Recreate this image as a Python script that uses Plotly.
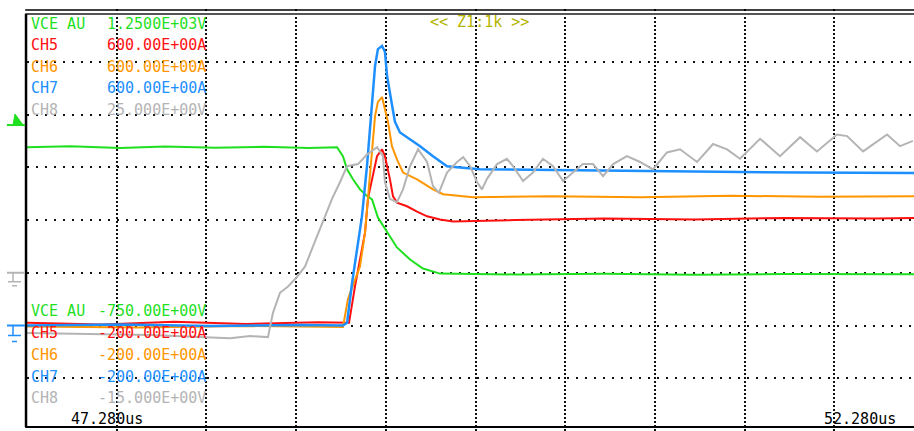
import plotly.graph_objects as go

# time in us, values in channel units
t_vce = [47.28, 47.52, 47.80, 48.05, 48.33, 48.60, 48.85, 49.008, 49.041, 49.064, 49.097, 49.136, 49.170,
         49.203, 49.236, 49.287, 49.342, 49.415, 49.487, 49.582, 50.00, 50.50, 51.00, 51.50, 52.00, 52.224]
vce = [595, 600, 591, 598, 592, 597, 591, 595, 552, 490, 443, 395, 367,
       348, 262, 191, 120, 63, 20, -4, -8, -5, -9, -6, -8, -7]

t_ch5 = [47.28, 47.70, 48.10, 48.50, 48.90, 49.075, 49.108, 49.136, 49.164, 49.181, 49.231, 49.259, 49.275,
         49.303, 49.320, 49.342, 49.398, 49.454, 49.510, 49.582, 49.655, 50.00, 50.50, 51.00, 51.50, 52.00, 52.224]
ch5 = [5, 2, 7, 3, 6, 5, 74, 125, 176, 242, 321, 334, 321,
       277, 245, 233, 226, 216, 207, 201, 197, 200, 203, 201, 204, 203, 204]

t_ch6 = [47.28, 47.90, 48.50, 49.041, 49.069, 49.136, 49.164, 49.203, 49.220, 49.236, 49.259, 49.275, 49.292,
         49.314, 49.342, 49.376, 49.454, 49.543, 49.599, 49.766, 50.20, 50.70, 51.20, 51.70, 52.224]
ch6 = [-2, -4, -1, -3, 50, 112, 176, 340, 397, 424, 433, 410, 386,
       340, 315, 290, 277, 258, 249, 243, 245, 243, 246, 244, 245]

t_ch7 = [47.28, 47.80, 48.30, 48.80, 49.041, 49.064, 49.092, 49.119, 49.147, 49.175, 49.203, 49.220, 49.236,
         49.259, 49.275, 49.287, 49.309, 49.331, 49.359, 49.415, 49.471, 49.543, 49.621, 49.677, 49.805,
         50.474, 51.00, 51.589, 52.224]
ch7 = [0, 2, -1, 1, 0, 5, 81, 144, 207, 302, 429, 492, 524,
       530, 519, 473, 429, 386, 366, 353, 340, 321, 302, 300, 296,
       294, 292, 290, 289]

t_ch8 = [47.28, 47.966, 48.412, 48.523, 48.623, 48.651, 48.690, 48.735, 48.785, 48.830, 48.874, 48.913,
         48.952, 48.980, 49.025, 49.064, 49.125, 49.175, 49.231, 49.264, 49.275, 49.303, 49.342, 49.376,
         49.415, 49.460, 49.510, 49.543, 49.576, 49.621, 49.677, 49.711, 49.750, 49.788, 49.816, 49.844,
         49.900, 49.955, 49.989, 50.045, 50.100, 50.156, 50.212, 50.268, 50.323, 50.379, 50.435, 50.491,
         50.547, 50.624, 50.697, 50.769, 50.847, 50.920, 51.015, 51.104, 51.182, 51.254, 51.366, 51.477,
         51.589, 51.683, 51.795, 51.851, 51.940, 52.074, 52.146, 52.218]
ch8 = [-5.7, -5.9, -6.2, -6.0, -6.1, -3.8, -1.9, -1.3, -0.4, 0.6, 2.5, 4.1,
       5.7, 7.0, 8.6, 10.1, 10.3, 11.2, 11.9, 11.05, 8.6, 7.0, 6.7, 7.9,
       10.1, 11.7, 10.5, 8.2, 7.6, 9.5, 10.5, 10.95, 10.1, 8.6, 7.9, 8.9,
       10.3, 10.8, 10.1, 8.7, 9.5, 10.8, 10.1, 8.7, 9.5, 10.3, 10.3, 9.15,
       10.3, 11.05, 10.5, 9.8, 11.4, 11.7, 10.5, 12.2, 11.7, 10.8, 12.7, 11.05,
       12.85, 11.5, 13.1, 12.95, 11.5, 13.1, 12.0, 12.5]

# channel labels / scale settings
names = ['VCE AU', 'CH5', 'CH6', 'CH7', 'CH8']
top_vals = ['1.2500E+03V', '600.00E+00A', '600.00E+00A', '600.00E+00A', '25.000E+00V']
bot_vals = ['-750.00E+00V', '-200.00E+00A', '-200.00E+00A', '-200.00E+00A', '-15.000E+00V']
t_start, t_end = '47.280us', '52.280us'
zoom_txt = '<< Z1:1k >>'

GREEN, RED, ORANGE, BLUE, GRAY = '#1fe01f', '#ff1010', '#ff9600', '#1e8fff', '#b4b4b4'
colors = [GREEN, RED, ORANGE, BLUE, GRAY]
FONT = 'DejaVu Sans Mono'

fig = go.Figure()
fig.add_trace(go.Scatter(x=t_vce, y=vce, mode='lines', line=dict(color=GREEN, width=2), yaxis='y'))
fig.add_trace(go.Scatter(x=t_ch5, y=ch5, mode='lines', line=dict(color=RED, width=2), yaxis='y2'))
fig.add_trace(go.Scatter(x=t_ch6, y=ch6, mode='lines', line=dict(color=ORANGE, width=2), yaxis='y2'))
fig.add_trace(go.Scatter(x=t_ch7, y=ch7, mode='lines', line=dict(color=BLUE, width=2.5), yaxis='y2'))
fig.add_trace(go.Scatter(x=t_ch8, y=ch8, mode='lines', line=dict(color=GRAY, width=2), yaxis='y3'))

ann = []
top_y = [0.9645, 0.9147, 0.8626, 0.8128, 0.7607]
bot_y = [0.2844, 0.2322, 0.1801, 0.1280, 0.0782]
for i in range(5):
    for yy, val in [(top_y[i], top_vals[i]), (bot_y[i], bot_vals[i])]:
        ann.append(dict(x=0.002, y=yy, xref='paper', yref='paper', text=names[i], showarrow=False,
                        xanchor='left', yanchor='middle', font=dict(family=FONT, size=15, color=colors[i])))
        ann.append(dict(x=0.2041, y=yy, xref='paper', yref='paper', text=val, showarrow=False,
                        xanchor='right', yanchor='middle', font=dict(family=FONT, size=15, color=colors[i])))
ann.append(dict(x=0.133, y=0.0284, xref='paper', yref='paper', text=t_start, showarrow=False,
                xanchor='right', yanchor='middle', font=dict(family=FONT, size=15, color='black')))
ann.append(dict(x=0.982, y=0.0284, xref='paper', yref='paper', text=t_end, showarrow=False,
                xanchor='right', yanchor='middle', font=dict(family=FONT, size=15, color='black')))
ann.append(dict(x=0.5096, y=0.9692, xref='paper', yref='paper', text=zoom_txt, showarrow=False,
                xanchor='center', yanchor='middle', font=dict(family=FONT, size=15, color='#b4b400')))

shapes = [
    # screen frame
    dict(type='line', xref='paper', yref='paper', x0=-0.002, x1=1, y0=0.9976, y1=0.9976, line=dict(color='black', width=1.5)),
    dict(type='line', xref='paper', yref='paper', x0=-0.002, x1=1, y0=0.9882, y1=0.9882, line=dict(color='#555', width=2)),
    dict(type='line', xref='paper', yref='paper', x0=-0.0011, x1=-0.0011, y0=0.0095, y1=0.9882, line=dict(color='black', width=2.5)),
    dict(type='line', xref='paper', yref='paper', x0=-0.002, x1=1, y0=0.0095, y1=0.0095, line=dict(color='black', width=2)),
]
# ground markers (CH8 / VCE zero and CH5-7 zero) and trigger level
for yref, col, d1, d2 in [('y3', GRAY, -9, -13), ('y2', BLUE, -10, -16)]:
    common = dict(xref='paper', xsizemode='pixel', xanchor=0, yref=yref, ysizemode='pixel', yanchor=0)
    shapes.append(dict(type='line', x0=-20, x1=-2, y0=0, y1=0, line=dict(color=col, width=2), **common))
    shapes.append(dict(type='line', x0=-14, x1=-14, y0=0, y1=d1, line=dict(color=col, width=1.5), **common))
    shapes.append(dict(type='line', x0=-19, x1=-6, y0=d1, y1=d1, line=dict(color=col, width=1.5), **common))
    shapes.append(dict(type='line', x0=-15, x1=-10, y0=d2, y1=d2, line=dict(color=col, width=1.5), **common))
trig = dict(xref='paper', xsizemode='pixel', xanchor=0, yref='y', ysizemode='pixel', yanchor=700)
shapes.append(dict(type='path', path='M-14,0 L-12,11 L-4,0 Z', fillcolor=GREEN, line=dict(color=GREEN, width=1), **trig))
shapes.append(dict(type='line', x0=-20, x1=-2, y0=0, y1=0, line=dict(color=GREEN, width=2), **trig))

fig.update_layout(
    width=914, height=431,
    margin=dict(l=27, r=0, t=9, b=0),
    paper_bgcolor='white', plot_bgcolor='white',
    showlegend=False,
    annotations=ann, shapes=shapes,
    xaxis=dict(range=[47.28, 52.224], tick0=47.28, dtick=0.5, showgrid=True, gridcolor='#111',
               griddash='2px,2px', gridwidth=2, zeroline=False, showticklabels=False, ticks=''),
    yaxis=dict(range=[-750, 1250], tick0=-750, dtick=250, showgrid=True, gridcolor='#111',
               griddash='2px,7px', gridwidth=2, zeroline=False, showticklabels=False, ticks=''),
    yaxis2=dict(range=[-200, 600], overlaying='y', visible=False),
    yaxis3=dict(range=[-15, 25], overlaying='y', visible=False),
)

# drop the default page margin so the figure sits at the window's corner
fig.write_html('out.html', config={'displayModeBar': False},
               post_script="document.body.style.margin='0';document.body.style.overflow='hidden';")
